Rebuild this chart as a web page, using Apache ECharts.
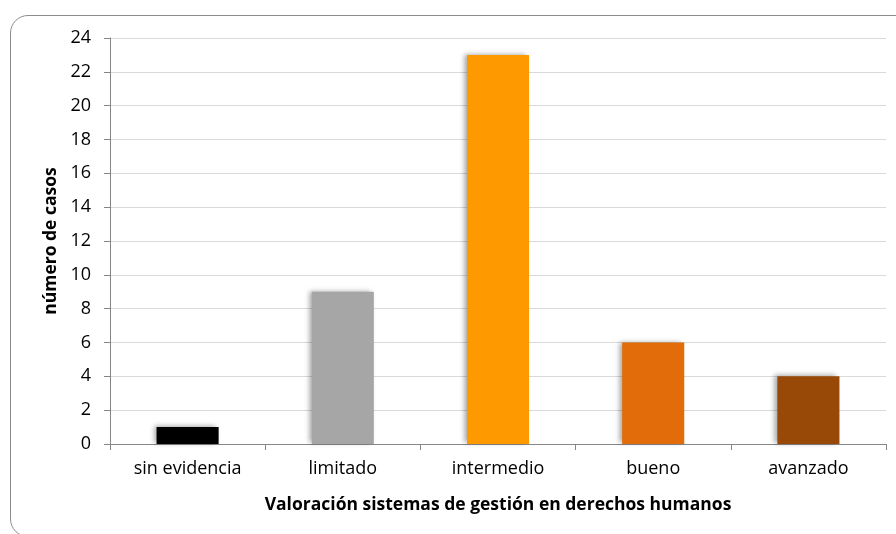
<!DOCTYPE html>
<html>
<head>
<meta charset="utf-8">
<script src="https://cdn.jsdelivr.net/npm/echarts@6/dist/echarts.min.js"></script>
<style>
  html, body { margin: 0; padding: 0; background: #fff; overflow: hidden; }
  #frame { position: absolute; left: 10px; top: 15px; width: 920px; height: 522px;
           border: 1.5px solid #8c8c8c; border-radius: 18px; box-sizing: border-box; }
  #chart { position: absolute; left: 0; top: 0; width: 896px; height: 534px; }
</style>
</head>
<body>
<div id="frame"></div>
<div id="chart"></div>
<script>
// categorias y valores
var categorias = ['sin evidencia', 'limitado', 'intermedio', 'bueno', 'avanzado'];
var casos = [1, 9, 23, 6, 4];
var colores = ['#000000', '#a6a6a6', '#ff9900', '#e36c0a', '#984807'];

var fuente = '"Open Sans", Lato, sans-serif';

var chart = echarts.init(document.getElementById('chart'));
chart.setOption({
    animation: false,
    grid: { left: 110, right: 10, top: 38, bottom: 90 },
    xAxis: {
        type: 'category',
        data: categorias,
        name: 'Valoración sistemas de gestión en derechos humanos',
        nameLocation: 'middle',
        nameGap: 52,
        nameTextStyle: { fontFamily: fuente, fontSize: 17.5, fontWeight: 'bold', color: '#000' },
        axisLine: { lineStyle: { color: '#868686', width: 1 } },
        axisTick: { show: true, length: 6, lineStyle: { color: '#868686' } },
        axisLabel: { fontFamily: fuente, fontSize: 18, color: '#000', margin: 16 }
    },
    yAxis: {
        type: 'value',
        min: 0, max: 24, interval: 2,
        name: 'número de casos',
        nameLocation: 'middle',
        nameGap: 46,
        nameTextStyle: { fontFamily: fuente, fontSize: 17.5, fontWeight: 'bold', color: '#000' },
        axisLine: { show: true, lineStyle: { color: '#868686', width: 1 } },
        axisTick: { show: true, length: 6, lineStyle: { color: '#868686' } },
        axisLabel: { fontFamily: fuente, fontSize: 18, color: '#000', margin: 19 },
        splitLine: { lineStyle: { color: '#d9d9d9', width: 1 } }
    },
    series: [{
        type: 'bar',
        data: casos.map(function (v, i) {
            return { value: v, itemStyle: { color: colores[i] } };
        }),
        barWidth: '40%',
        itemStyle: {
            shadowBlur: 5,
            shadowOffsetX: -3,
            shadowOffsetY: -1,
            shadowColor: 'rgba(0,0,0,0.35)'
        }
    }]
});
</script>
</body>
</html>
